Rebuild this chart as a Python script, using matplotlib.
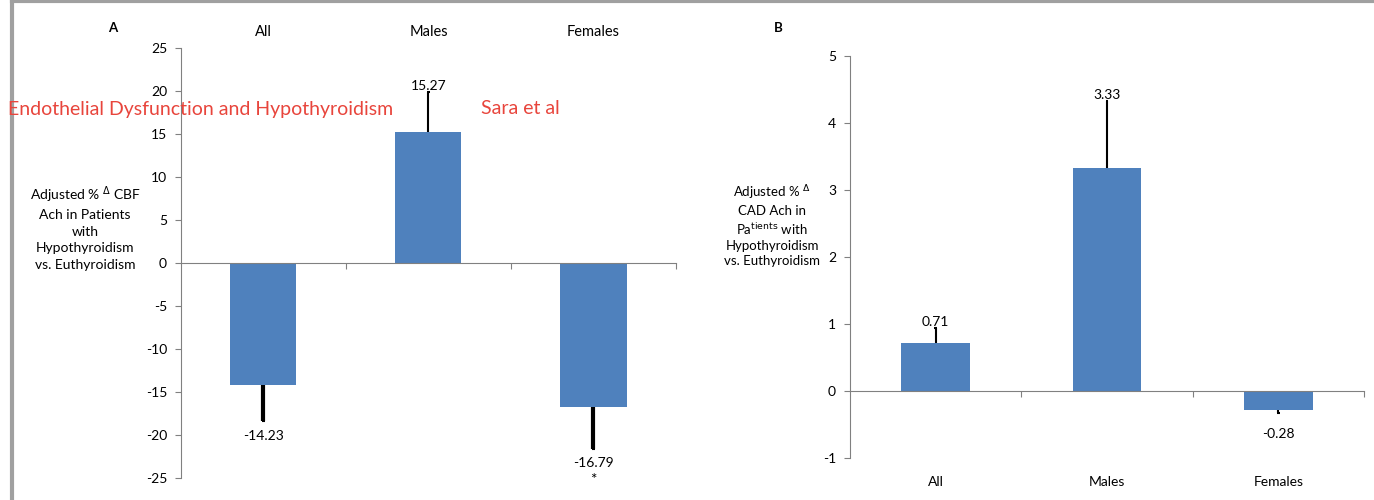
import matplotlib
matplotlib.use("Agg")
import matplotlib.pyplot as plt
from matplotlib.lines import Line2D

plt.rcParams['font.family'] = ['Lato', 'DejaVu Sans']
plt.rcParams['axes.unicode_minus'] = False

groups = ["All", "Males", "Females"]

cbf_values = [-14.23, 15.27, -16.79]
cbf_errors = [4.2, 4.6, 4.8]
cbf_labels = ["-14.23", "15.27", "-16.79"]

cad_values = [0.71, 3.33, -0.28]
cad_errors = [0.23, 1.0, 0.05]
cad_labels = ["0.71", "3.33", "-0.28"]

bar_color = "#4f81bd"
red = "#e8453c"

fig = plt.figure(figsize=(13.74, 5.0), dpi=100)

# gray frame on top and left edge
fig.add_artist(Line2D([0.0085, 1.0], [0.9975, 0.9975], color="#a0a0a0", lw=3))
fig.add_artist(Line2D([0.0085, 0.0085], [0.0, 1.0], color="#a0a0a0", lw=3))


def style_axes(ax, ymin, ymax, step):
    ax.set_xlim(0, 3)
    ax.set_ylim(ymin, ymax)
    ax.set_yticks(range(ymin, ymax + 1, step))
    ax.spines["top"].set_visible(False)
    ax.spines["right"].set_visible(False)
    ax.spines["bottom"].set_position(("data", 0))
    ax.spines["bottom"].set_color("#808080")
    ax.spines["left"].set_color("#808080")
    ax.set_xticks([1, 2, 3])
    ax.set_xticklabels([])
    ax.tick_params(axis="x", direction="out", length=4, color="#808080")
    ax.tick_params(axis="y", direction="out", length=4, color="#808080",
                   labelsize=10, pad=6)


def draw_bars(ax, values, errors, labels, thick_neg, lab_off):
    xs = [0.5, 1.5, 2.5]
    ax.bar(xs, values, width=0.4, color=bar_color, zorder=2)
    for x, v, e, lab in zip(xs, values, errors, labels):
        if v >= 0:
            ax.vlines(x, v, v + e, color="black", lw=1.5, zorder=3)
            ax.hlines(v + e, x - 0.008, x + 0.008, color="black", lw=1.5, zorder=3)
            ax.text(x, v + e, lab, ha="center", va="bottom", fontsize=10)
        else:
            ax.vlines(x, v, v - e, color="black", lw=thick_neg, zorder=3)
            ax.hlines(v - e, x - 0.01, x + 0.01, color="black", lw=1.5, zorder=3)
            ax.text(x, v - e - lab_off, lab, ha="center", va="top", fontsize=10)


# Panel A
axA = fig.add_axes([0.1317, 0.044, 0.3603, 0.86])
style_axes(axA, -25, 25, 5)
draw_bars(axA, cbf_values, cbf_errors, cbf_labels, 3, 1.0)
axA.text(2.5, cbf_values[2] - cbf_errors[2] - 2.8, "*", ha="center", va="top",
         fontsize=11)
for i, g in enumerate(groups):
    axA.text(i + 0.5, 1.02, g, transform=axA.get_xaxis_transform(),
             ha="center", va="bottom", fontsize=10.5)
fig.text(0.0822, 0.944, "A", ha="center", va="center", fontsize=9.5,
         fontweight="bold")
fig.text(0.062, 0.545, "Adjusted % $^{\\Delta}$ CBF\nAch in Patients\nwith\n"
         "Hypothyroidism\nvs. Euthyroidism", ha="center", va="center",
         fontsize=10, linespacing=1.45)

# red header text
fig.text(0.006, 0.782, "Endothelial Dysfunction and Hypothyroidism",
         color=red, fontsize=14, ha="left", va="center")
fig.text(0.350, 0.782, "Sara et al", color=red, fontsize=14,
         ha="left", va="center")

# Panel B
axB = fig.add_axes([0.6186, 0.084, 0.3741, 0.804])
style_axes(axB, -1, 5, 1)
draw_bars(axB, cad_values, cad_errors, cad_labels, 1.5, 0.22)
for i, g in enumerate(groups):
    axB.text(i + 0.5, -0.045, g, transform=axB.get_xaxis_transform(),
             ha="center", va="top", fontsize=10)
fig.text(0.5662, 0.944, "B", ha="center", va="center", fontsize=9.5,
         fontweight="bold")
fig.text(0.562, 0.55, "Adjusted % $^{\\Delta}$\nCAD Ach in\n"
         "Pa$^{\\mathrm{tients}}$ with\nHypothyroidism\nvs. Euthyroidism",
         ha="center", va="center", fontsize=9.5, linespacing=1.3)

fig.savefig("out.png", dpi=100)
